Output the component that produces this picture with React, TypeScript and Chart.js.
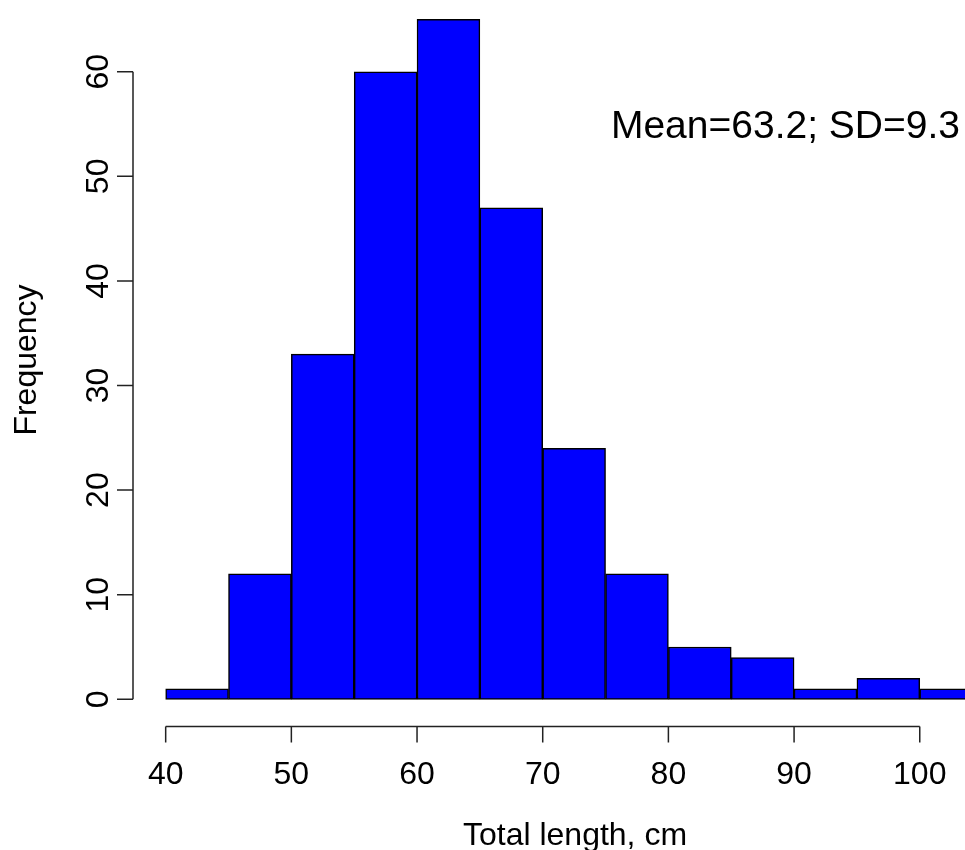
import React, { useEffect, useRef } from 'react';
import { Chart, registerables } from 'chart.js';

Chart.register(...registerables);

// Histogram data
const binStarts = [40, 45, 50, 55, 60, 65, 70, 75, 80, 85, 90, 95, 100];
const binWidth = 5;
const frequencies = [1, 12, 33, 60, 65, 47, 24, 12, 5, 4, 1, 2, 1];
const xTicks = [40, 50, 60, 70, 80, 90, 100];
const yTicks = [0, 10, 20, 30, 40, 50, 60];
const xTitle = 'Total length, cm';
const yTitle = 'Frequency';
const annotationText = 'Mean=63.2; SD=9.3';

const FONT = '"Liberation Sans", Arial, Helvetica, sans-serif';

const rAxesPlugin = {
  id: 'rAxes',
  afterDraw(chart: any) {
    const ctx = chart.ctx as CanvasRenderingContext2D;
    const xs = chart.scales.x;
    const ys = chart.scales.y;
    const axisY = ys.bottom;
    const axisX = xs.left;
    ctx.save();
    ctx.strokeStyle = '#222';
    ctx.lineWidth = 1.5;
    ctx.lineCap = 'butt';

    // x axis
    const xa = xs.getPixelForValue(xTicks[0]);
    const xb = xs.getPixelForValue(xTicks[xTicks.length - 1]);
    ctx.beginPath();
    ctx.moveTo(xa, axisY);
    ctx.lineTo(xb, axisY);
    xTicks.forEach((v) => {
      const p = xs.getPixelForValue(v);
      ctx.moveTo(p, axisY);
      ctx.lineTo(p, axisY + 16);
    });
    ctx.stroke();

    // y axis
    const ya = ys.getPixelForValue(yTicks[0]);
    const yb = ys.getPixelForValue(yTicks[yTicks.length - 1]);
    ctx.beginPath();
    ctx.moveTo(axisX, ya);
    ctx.lineTo(axisX, yb);
    yTicks.forEach((v) => {
      const p = ys.getPixelForValue(v);
      ctx.moveTo(axisX, p);
      ctx.lineTo(axisX - 16, p);
    });
    ctx.stroke();

    ctx.fillStyle = '#000';
    ctx.font = `32px ${FONT}`;
    ctx.textAlign = 'center';
    ctx.textBaseline = 'alphabetic';
    xTicks.forEach((v) => {
      ctx.fillText(String(v), xs.getPixelForValue(v), axisY + 57.5);
    });
    yTicks.forEach((v) => {
      const p = ys.getPixelForValue(v);
      ctx.save();
      ctx.translate(axisX - 25, p);
      ctx.rotate(-Math.PI / 2);
      ctx.fillText(String(v), 0, 0);
      ctx.restore();
    });

    // axis titles
    ctx.fillText(xTitle, 575, 845);
    ctx.save();
    ctx.translate(36, 360);
    ctx.rotate(-Math.PI / 2);
    ctx.fillText(yTitle, 0, 0);
    ctx.restore();

    // annotation
    ctx.font = `39px ${FONT}`;
    ctx.textAlign = 'right';
    ctx.fillText(annotationText, 960, 138);
    ctx.restore();
  },
};

export default function App() {
  const canvasRef = useRef<HTMLCanvasElement | null>(null);

  useEffect(() => {
    if (!canvasRef.current) return;
    const data = binStarts.map((s, i) => ({ x: s + binWidth / 2, y: frequencies[i] }));
    const chart = new Chart(canvasRef.current, {
      type: 'bar',
      data: {
        datasets: [
          {
            data: data as any,
            backgroundColor: '#0000FF',
            borderColor: '#000000',
            borderWidth: 1.5,
            borderSkipped: false,
            barPercentage: 1,
            categoryPercentage: 1,
          },
        ],
      },
      options: {
        animation: false,
        responsive: false,
        maintainAspectRatio: false,
        devicePixelRatio: 1,
        layout: { padding: { left: 133, right: 0, top: 0, bottom: 123.5 } },
        plugins: {
          legend: { display: false },
          tooltip: { enabled: false },
          title: { display: false },
        },
        scales: {
          x: {
            type: 'linear',
            display: false,
            offset: false,
            min: 37.4,
            max: 103.6,
            afterBuildTicks: (scale: any) => {
              scale.ticks = xTicks.map((v) => ({ value: v }));
            },
          },
          y: {
            type: 'linear',
            display: false,
            min: -2.6,
            max: 66.86,
            afterBuildTicks: (scale: any) => {
              scale.ticks = yTicks.map((v) => ({ value: v }));
            },
          },
        },
      },
      plugins: [rAxesPlugin],
    });
    return () => chart.destroy();
  }, []);

  return (
    <div style={{ position: 'absolute', left: 0, top: 0, width: 965, height: 850, background: '#fff' }}>
      <canvas ref={canvasRef} width={965} height={850} style={{ display: 'block' }} />
    </div>
  );
}
